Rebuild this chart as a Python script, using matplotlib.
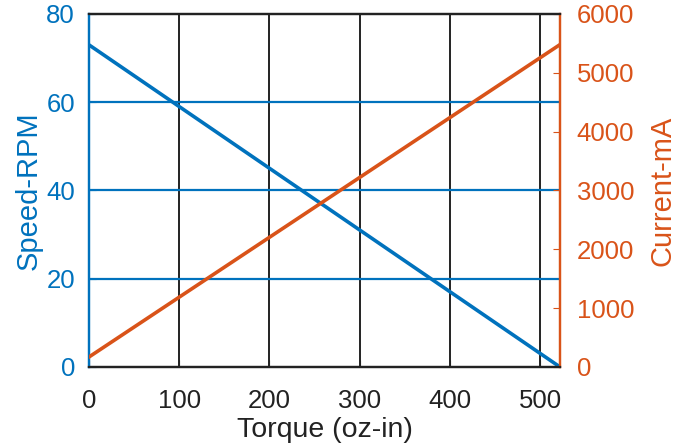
import matplotlib
matplotlib.use("Agg")
import matplotlib.pyplot as plt

plt.rcParams['font.family'] = ['Liberation Sans', 'DejaVu Sans']

torque = [0, 522]
speed = [73, 0]
current = [170, 5480]

blue = '#0072BD'
orange = '#D95319'

fig = plt.figure(figsize=(6.91, 4.47), dpi=100)
ax = fig.add_axes([0.1288, 0.179, 0.6816, 0.7897])
ax2 = ax.twinx()

ax.plot(torque, speed, color=blue, lw=2.6, zorder=3)
ax2.plot(torque, current, color=orange, lw=2.6, zorder=3)

ax.set_xlim(0, 522)
ax.set_ylim(0, 80)
ax2.set_ylim(0, 6000)
ax.set_xticks([0, 100, 200, 300, 400, 500])
ax.set_yticks([0, 20, 40, 60, 80])
ax2.set_yticks([0, 1000, 2000, 3000, 4000, 5000, 6000])

for x in [100, 200, 300, 400, 500]:
    ax.axvline(x, color='#222222', lw=1.4, zorder=1)
for y in [20, 40, 60]:
    ax.axhline(y, color=blue, lw=1.6, zorder=1)

fs = 18.5
lfs = 20.5
ax.tick_params(axis='x', direction='in', labelsize=fs, colors='#222222', length=5, pad=16)
ax.tick_params(axis='y', direction='in', labelsize=fs, colors=blue, length=5, pad=10)
ax2.tick_params(axis='y', direction='in', labelsize=fs, colors=orange, length=5, pad=12)

ax.set_xlabel('Torque (oz-in)', fontsize=lfs, color='#222222', labelpad=3)
ax.set_ylabel('Speed-RPM', fontsize=21, color=blue, labelpad=3)
ax2.set_ylabel('Current-mA', fontsize=21, color=orange, labelpad=10)

for a in (ax, ax2):
    a.spines['top'].set_color('#222222')
    a.spines['bottom'].set_color('#222222')
    a.spines['left'].set_color(blue)
    a.spines['right'].set_color(orange)
    for s in a.spines.values():
        s.set_linewidth(1.6)

fig.savefig('out.png', dpi=100)
